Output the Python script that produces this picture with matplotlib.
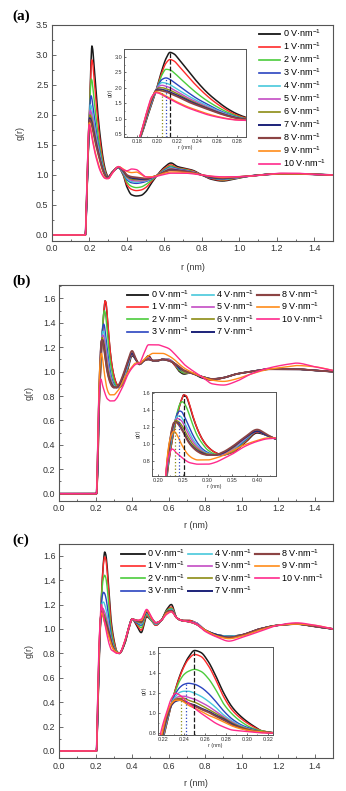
import numpy as np
import matplotlib
matplotlib.use("Agg")
import matplotlib.pyplot as plt
from matplotlib.ticker import MultipleLocator
from matplotlib.lines import Line2D

plt.rcParams['font.family'] = ['Liberation Sans', 'DejaVu Sans']
plt.rcParams['mathtext.fontset'] = 'custom'
plt.rcParams['mathtext.rm'] = 'Liberation Sans'
plt.rcParams['mathtext.it'] = 'Liberation Sans:italic'

# ---------------- data ----------------
FIELDS = [0, 1, 2, 3, 4, 5, 6, 7, 8, 9, 10]
COLORS = ['#1a1a1a', '#ff2a2a', '#4ccc3c', '#2a44c0', '#48c8dc', '#c44cc4',
          '#8c8c14', '#22287c', '#8c4444', '#ff8c1a', '#ff2a8c']
WIDTHS = [1.1, 1.0, 1.0, 1.0, 1.0, 1.0, 1.0, 1.2, 1.3, 1.0, 1.0]

# panel (a) knots
RA = [0.0, 0.178, 0.184, 0.19, 0.195, 0.199, 0.202, 0.205, 0.209, 0.213, 0.217, 0.222,
      0.23, 0.24, 0.25, 0.26, 0.27, 0.28, 0.29, 0.30, 0.32, 0.355, 0.38, 0.40, 0.425,
      0.45, 0.475, 0.50, 0.53, 0.56, 0.60, 0.635, 0.67, 0.71, 0.75, 0.80, 0.85, 0.91,
      0.97, 1.05, 1.15, 1.22, 1.3, 1.4, 1.5]
a0 = [0, 0, 0.42, 1.02, 1.5, 1.9, 2.25, 2.58, 2.95, 3.15, 3.1, 2.92, 2.6, 2.2, 1.85, 1.57, 1.33, 1.15, 1.03, 0.97,
      1.04, 1.12, 1.0, 0.8, 0.67, 0.65, 0.66, 0.72, 0.86, 0.99, 1.13, 1.2, 1.14, 1.11, 1.08, 1.0, 0.93, 0.9,
      0.93, 0.98, 1.01, 1.02, 1.02, 1.01, 1.0]
a1 = [0, 0, 0.43, 1.04, 1.52, 1.9, 2.22, 2.5, 2.8, 2.92, 2.87, 2.7, 2.4, 2.05, 1.74, 1.48, 1.27, 1.11, 1.01, 0.96,
      1.04, 1.12, 1.01, 0.84, 0.76, 0.74, 0.75, 0.79, 0.89, 0.99, 1.11, 1.17, 1.12, 1.1, 1.07, 1.0, 0.94, 0.91,
      0.94, 0.98, 1.01, 1.02, 1.02, 1.01, 1.0]
a2 = [0, 0, 0.44, 1.06, 1.54, 1.9, 2.18, 2.42, 2.6, 2.58, 2.49, 2.34, 2.1, 1.82, 1.58, 1.38, 1.21, 1.08, 0.99, 0.96,
      1.04, 1.12, 1.02, 0.88, 0.81, 0.79, 0.8, 0.84, 0.91, 0.99, 1.09, 1.15, 1.11, 1.09, 1.06, 1.0, 0.95, 0.92,
      0.94, 0.98, 1.01, 1.02, 1.02, 1.01, 1.0]
a3 = [0, 0, 0.45, 1.08, 1.56, 1.9, 2.13, 2.27, 2.32, 2.27, 2.18, 2.06, 1.87, 1.65, 1.47, 1.3, 1.16, 1.05, 0.98, 0.96,
      1.04, 1.12, 1.03, 0.92, 0.87, 0.86, 0.87, 0.89, 0.93, 0.99, 1.08, 1.13, 1.1, 1.08, 1.05, 1.0, 0.95, 0.93,
      0.95, 0.98, 1.01, 1.02, 1.02, 1.01, 1.0]
a4 = [0, 0, 0.46, 1.1, 1.58, 1.91, 2.09, 2.17, 2.15, 2.1, 2.02, 1.92, 1.76, 1.58, 1.42, 1.27, 1.14, 1.04, 0.98, 0.96,
      1.04, 1.12, 1.04, 0.94, 0.89, 0.88, 0.89, 0.9, 0.94, 0.99, 1.07, 1.12, 1.09, 1.07, 1.05, 1.0, 0.96, 0.93,
      0.95, 0.98, 1.01, 1.02, 1.02, 1.01, 1.0]
a5 = [0, 0, 0.47, 1.12, 1.6, 1.92, 2.05, 2.08, 2.05, 2.0, 1.93, 1.84, 1.69, 1.53, 1.38, 1.24, 1.12, 1.03, 0.97, 0.96,
      1.04, 1.13, 1.05, 0.96, 0.91, 0.9, 0.9, 0.91, 0.95, 0.99, 1.06, 1.11, 1.09, 1.07, 1.05, 1.0, 0.96, 0.94,
      0.95, 0.98, 1.01, 1.02, 1.02, 1.01, 1.0]
a6 = [0, 0, 0.48, 1.14, 1.62, 1.92, 2.0, 2.0, 1.97, 1.92, 1.86, 1.78, 1.64, 1.49, 1.35, 1.22, 1.11, 1.02, 0.97, 0.96,
      1.04, 1.13, 1.06, 0.97, 0.93, 0.92, 0.92, 0.92, 0.95, 0.99, 1.06, 1.1, 1.08, 1.06, 1.04, 1.0, 0.96, 0.94,
      0.96, 0.98, 1.01, 1.02, 1.02, 1.01, 1.0]
a7 = [0, 0, 0.49, 1.16, 1.64, 1.92, 1.95, 1.94, 1.91, 1.86, 1.8, 1.73, 1.6, 1.46, 1.33, 1.21, 1.1, 1.02, 0.97, 0.96,
      1.04, 1.13, 1.07, 0.99, 0.95, 0.94, 0.93, 0.93, 0.96, 0.99, 1.05, 1.09, 1.08, 1.06, 1.04, 1.0, 0.96, 0.94,
      0.96, 0.98, 1.01, 1.02, 1.02, 1.01, 1.0]
a8 = [0, 0, 0.5, 1.18, 1.66, 1.9, 1.92, 1.9, 1.87, 1.82, 1.76, 1.69, 1.56, 1.43, 1.31, 1.19, 1.09, 1.01, 0.96, 0.95,
      1.04, 1.13, 1.08, 1.0, 0.97, 0.96, 0.95, 0.94, 0.96, 0.99, 1.05, 1.08, 1.07, 1.06, 1.04, 1.0, 0.97, 0.95,
      0.96, 0.98, 1.01, 1.02, 1.02, 1.01, 1.0]
a9 = [0, 0, 0.53, 1.22, 1.7, 1.87, 1.85, 1.8, 1.73, 1.66, 1.59, 1.51, 1.39, 1.27, 1.16, 1.07, 1.0, 0.96, 0.94, 0.94,
      1.02, 1.14, 1.1, 1.06, 1.04, 1.05, 1.01, 0.97, 0.97, 0.99, 1.03, 1.05, 1.05, 1.04, 1.03, 1.0, 0.98, 0.96,
      0.97, 0.98, 1.01, 1.02, 1.02, 1.01, 1.0]
a10 = [0, 0, 0.55, 1.25, 1.72, 1.84, 1.82, 1.77, 1.7, 1.63, 1.56, 1.48, 1.36, 1.24, 1.13, 1.05, 0.99, 0.95, 0.94, 0.94,
       1.02, 1.14, 1.09, 1.07, 1.1, 1.09, 1.03, 0.97, 0.96, 0.98, 1.01, 1.03, 1.03, 1.03, 1.02, 1.0, 0.98, 0.97,
       0.97, 0.98, 1.01, 1.03, 1.03, 1.01, 1.0]

# panel (b) knots
RB = [0.0, 0.205, 0.212, 0.218, 0.223, 0.228, 0.232, 0.236, 0.24, 0.244, 0.248, 0.252, 0.257, 0.263,
      0.27, 0.28, 0.29, 0.30, 0.315, 0.33, 0.35, 0.375, 0.40, 0.42, 0.44, 0.465, 0.49, 0.515, 0.54,
      0.565, 0.60, 0.63, 0.66, 0.685, 0.72, 0.78, 0.84, 0.9, 0.97, 1.05, 1.15, 1.25, 1.3, 1.4, 1.5]
b0 = [0, 0, 0.18, 0.6, 0.84, 1.02, 1.15, 1.27, 1.37, 1.46, 1.53, 1.58, 1.56, 1.47, 1.33, 1.17, 1.05, 0.97, 0.9, 0.87,
      0.9, 1.01, 1.13, 1.1, 1.06, 1.09, 1.13, 1.09, 1.09, 1.1, 1.1, 1.06, 1.0, 0.98, 0.99, 0.95, 0.93, 0.95, 0.98,
      1.0, 1.02, 1.02, 1.02, 1.01, 1.0]
b1 = [0, 0, 0.18, 0.6, 0.84, 1.02, 1.15, 1.27, 1.37, 1.46, 1.53, 1.58, 1.57, 1.48, 1.34, 1.17, 1.05, 0.97, 0.9, 0.87,
      0.9, 1.02, 1.14, 1.1, 1.06, 1.09, 1.12, 1.09, 1.09, 1.1, 1.1, 1.06, 1.01, 0.99, 0.99, 0.96, 0.93, 0.95, 0.98,
      1.0, 1.02, 1.02, 1.02, 1.01, 1.0]
b2 = [0, 0, 0.2, 0.63, 0.87, 1.05, 1.18, 1.3, 1.4, 1.47, 1.5, 1.49, 1.44, 1.35, 1.23, 1.09, 1.0, 0.93, 0.88, 0.87,
      0.91, 1.03, 1.15, 1.1, 1.06, 1.09, 1.11, 1.09, 1.09, 1.1, 1.1, 1.07, 1.01, 0.99, 0.99, 0.96, 0.94, 0.95, 0.98,
      1.0, 1.02, 1.02, 1.02, 1.01, 1.0]
b3 = [0, 0, 0.22, 0.66, 0.9, 1.08, 1.21, 1.31, 1.37, 1.39, 1.38, 1.34, 1.28, 1.2, 1.11, 1.01, 0.94, 0.9, 0.87, 0.87,
      0.92, 1.04, 1.15, 1.1, 1.06, 1.09, 1.11, 1.09, 1.09, 1.1, 1.1, 1.07, 1.02, 1.0, 0.99, 0.96, 0.94, 0.95, 0.98,
      1.0, 1.02, 1.02, 1.02, 1.01, 1.0]
b4 = [0, 0, 0.24, 0.68, 0.92, 1.1, 1.22, 1.3, 1.33, 1.33, 1.31, 1.27, 1.21, 1.14, 1.06, 0.98, 0.92, 0.89, 0.87, 0.88,
      0.93, 1.05, 1.15, 1.1, 1.06, 1.09, 1.11, 1.09, 1.09, 1.1, 1.1, 1.07, 1.03, 1.0, 0.99, 0.96, 0.94, 0.95, 0.98,
      1.0, 1.02, 1.02, 1.02, 1.01, 1.0]
b5 = [0, 0, 0.26, 0.7, 0.94, 1.12, 1.23, 1.29, 1.3, 1.29, 1.27, 1.23, 1.17, 1.1, 1.03, 0.96, 0.91, 0.88, 0.87, 0.88,
      0.94, 1.06, 1.15, 1.1, 1.06, 1.09, 1.11, 1.09, 1.09, 1.1, 1.1, 1.07, 1.03, 1.0, 0.99, 0.96, 0.94, 0.95, 0.98,
      1.0, 1.02, 1.02, 1.02, 1.01, 1.0]
b6 = [0, 0, 0.28, 0.72, 0.96, 1.14, 1.24, 1.28, 1.27, 1.25, 1.22, 1.18, 1.12, 1.06, 1.0, 0.94, 0.9, 0.88, 0.87, 0.89,
      0.95, 1.07, 1.15, 1.1, 1.06, 1.09, 1.1, 1.09, 1.09, 1.1, 1.09, 1.07, 1.03, 1.0, 0.99, 0.96, 0.94, 0.95, 0.98,
      1.0, 1.02, 1.02, 1.02, 1.01, 1.0]
b7 = [0, 0, 0.3, 0.74, 0.98, 1.16, 1.24, 1.26, 1.25, 1.22, 1.18, 1.14, 1.08, 1.02, 0.97, 0.92, 0.89, 0.87, 0.87, 0.89,
      0.96, 1.07, 1.15, 1.1, 1.06, 1.09, 1.1, 1.09, 1.09, 1.1, 1.09, 1.07, 1.03, 1.01, 0.99, 0.96, 0.94, 0.95, 0.98,
      1.0, 1.02, 1.02, 1.02, 1.01, 1.0]
b8 = [0, 0, 0.31, 0.75, 0.99, 1.17, 1.25, 1.26, 1.24, 1.21, 1.17, 1.13, 1.07, 1.01, 0.96, 0.91, 0.88, 0.87, 0.87, 0.9,
      0.97, 1.08, 1.17, 1.11, 1.06, 1.09, 1.1, 1.09, 1.09, 1.1, 1.09, 1.07, 1.04, 1.01, 0.99, 0.96, 0.94, 0.95, 0.98,
      1.0, 1.02, 1.02, 1.02, 1.01, 1.0]
b9 = [0, 0, 0.35, 0.8, 1.02, 1.12, 1.15, 1.13, 1.09, 1.04, 0.99, 0.95, 0.9, 0.86, 0.83, 0.81, 0.81, 0.81, 0.83, 0.86,
      0.92, 0.99, 1.04, 1.07, 1.07, 1.1, 1.13, 1.15, 1.15, 1.15, 1.13, 1.1, 1.06, 1.03, 1.0, 0.96, 0.93, 0.92, 0.94,
      0.98, 1.02, 1.04, 1.05, 1.04, 1.01]
b10 = [0, 0, 0.38, 0.75, 0.88, 0.94, 0.93, 0.9, 0.88, 0.86, 0.84, 0.82, 0.8, 0.78, 0.77, 0.76, 0.76, 0.76, 0.78, 0.82,
       0.88, 0.97, 1.03, 1.06, 1.07, 1.15, 1.22, 1.22, 1.22, 1.21, 1.19, 1.15, 1.1, 1.06, 1.02, 0.96, 0.9, 0.89, 0.92,
       0.98, 1.03, 1.06, 1.07, 1.04, 1.01]

# panel (c) knots
RC = [0.0, 0.205, 0.212, 0.218, 0.223, 0.228, 0.232, 0.236, 0.24, 0.244, 0.25, 0.256, 0.263, 0.27,
      0.278, 0.286, 0.295, 0.305, 0.315, 0.33, 0.36, 0.38, 0.40, 0.425, 0.45, 0.48, 0.505, 0.53, 0.56,
      0.59, 0.615, 0.645, 0.67, 0.71, 0.75, 0.8, 0.87, 0.93, 1.0, 1.1, 1.2, 1.3, 1.4, 1.5]
c0 = [0, 0, 0.3, 0.65, 0.88, 1.1, 1.25, 1.38, 1.48, 1.56, 1.63, 1.61, 1.52, 1.38, 1.2, 1.06, 0.96, 0.88, 0.82, 0.8,
      0.88, 0.99, 1.08, 1.03, 0.97, 1.1, 1.07, 1.03, 1.07, 1.16, 1.2, 1.09, 1.07, 1.07, 1.05, 0.99, 0.95, 0.94,
      0.95, 1.0, 1.03, 1.04, 1.02, 1.0]
c1 = [0, 0, 0.3, 0.65, 0.88, 1.1, 1.25, 1.37, 1.47, 1.54, 1.59, 1.57, 1.48, 1.34, 1.16, 1.03, 0.94, 0.87, 0.82, 0.8,
      0.88, 0.99, 1.08, 1.04, 0.99, 1.11, 1.07, 1.03, 1.07, 1.15, 1.18, 1.09, 1.07, 1.07, 1.05, 0.99, 0.95, 0.94,
      0.95, 1.0, 1.03, 1.04, 1.02, 1.0]
c2 = [0, 0, 0.31, 0.66, 0.89, 1.1, 1.23, 1.33, 1.39, 1.42, 1.44, 1.42, 1.35, 1.24, 1.09, 0.99, 0.91, 0.85, 0.82, 0.8,
      0.88, 1.0, 1.08, 1.05, 1.01, 1.12, 1.07, 1.04, 1.07, 1.15, 1.17, 1.09, 1.07, 1.06, 1.05, 0.99, 0.95, 0.94,
      0.95, 1.0, 1.03, 1.04, 1.02, 1.0]
c3 = [0, 0, 0.32, 0.67, 0.9, 1.1, 1.2, 1.26, 1.29, 1.3, 1.29, 1.26, 1.2, 1.12, 1.02, 0.94, 0.88, 0.84, 0.81, 0.8,
      0.89, 1.0, 1.08, 1.05, 1.03, 1.13, 1.08, 1.04, 1.07, 1.14, 1.16, 1.09, 1.07, 1.06, 1.05, 0.99, 0.95, 0.94,
      0.95, 1.0, 1.03, 1.04, 1.02, 1.0]
c4 = [0, 0, 0.33, 0.68, 0.91, 1.1, 1.17, 1.21, 1.22, 1.22, 1.2, 1.17, 1.12, 1.06, 0.98, 0.92, 0.87, 0.83, 0.81, 0.8,
      0.89, 1.0, 1.08, 1.06, 1.04, 1.13, 1.08, 1.04, 1.07, 1.14, 1.16, 1.09, 1.07, 1.06, 1.05, 0.99, 0.95, 0.94,
      0.95, 1.0, 1.03, 1.04, 1.02, 1.0]
c5 = [0, 0, 0.34, 0.69, 0.92, 1.09, 1.15, 1.17, 1.17, 1.16, 1.14, 1.11, 1.07, 1.02, 0.96, 0.91, 0.86, 0.83, 0.81, 0.8,
      0.89, 1.0, 1.08, 1.06, 1.05, 1.14, 1.09, 1.05, 1.07, 1.14, 1.15, 1.09, 1.07, 1.06, 1.05, 0.99, 0.95, 0.93,
      0.95, 1.0, 1.03, 1.04, 1.02, 1.0]
c6 = [0, 0, 0.35, 0.7, 0.93, 1.09, 1.14, 1.15, 1.15, 1.13, 1.11, 1.08, 1.04, 1.0, 0.95, 0.9, 0.86, 0.83, 0.81, 0.8,
      0.89, 1.0, 1.08, 1.06, 1.05, 1.14, 1.09, 1.05, 1.07, 1.14, 1.15, 1.09, 1.07, 1.06, 1.04, 0.99, 0.95, 0.93,
      0.95, 1.0, 1.03, 1.04, 1.02, 1.0]
c7 = [0, 0, 0.36, 0.71, 0.94, 1.08, 1.12, 1.13, 1.12, 1.1, 1.08, 1.05, 1.02, 0.98, 0.94, 0.89, 0.85, 0.82, 0.81, 0.8,
      0.89, 1.0, 1.08, 1.07, 1.06, 1.14, 1.09, 1.05, 1.07, 1.14, 1.15, 1.09, 1.07, 1.06, 1.04, 0.99, 0.95, 0.93,
      0.95, 1.0, 1.03, 1.04, 1.02, 1.0]
c8 = [0, 0, 0.37, 0.72, 0.95, 1.09, 1.13, 1.14, 1.12, 1.1, 1.07, 1.04, 1.01, 0.97, 0.93, 0.88, 0.85, 0.82, 0.81, 0.8,
      0.89, 1.0, 1.08, 1.07, 1.06, 1.15, 1.09, 1.05, 1.07, 1.14, 1.15, 1.09, 1.07, 1.06, 1.04, 0.99, 0.94, 0.93,
      0.95, 1.0, 1.03, 1.04, 1.02, 1.0]
c9 = [0, 0, 0.4, 0.75, 0.98, 1.1, 1.13, 1.13, 1.11, 1.08, 1.05, 1.02, 0.98, 0.95, 0.91, 0.87, 0.84, 0.82, 0.81, 0.8,
      0.9, 1.0, 1.08, 1.07, 1.07, 1.15, 1.09, 1.05, 1.07, 1.13, 1.14, 1.09, 1.07, 1.06, 1.04, 0.99, 0.94, 0.92,
      0.94, 0.99, 1.03, 1.04, 1.03, 1.0]
c10 = [0, 0, 0.45, 0.82, 1.0, 1.15, 1.2, 1.18, 1.14, 1.1, 1.05, 1.0, 0.95, 0.9, 0.86, 0.83, 0.82, 0.81, 0.8, 0.8,
       0.9, 1.0, 1.08, 1.07, 1.08, 1.16, 1.1, 1.05, 1.07, 1.12, 1.14, 1.09, 1.07, 1.06, 1.04, 0.98, 0.93, 0.9,
       0.93, 0.98, 1.03, 1.05, 1.03, 1.0]

SERIES_A = [a0, a1, a2, a3, a4, a5, a6, a7, a8, a9, a10]
SERIES_B = [b0, b1, b2, b3, b4, b5, b6, b7, b8, b9, b10]
SERIES_C = [c0, c1, c2, c3, c4, c5, c6, c7, c8, c9, c10]

# peak-position markers in the insets
MARK_A_R = [0.205, 0.209, 0.213]
MARK_A_G = [2.0, 2.32, 3.15]
MARK_B_R = [0.235, 0.243, 0.252]
MARK_B_G = [1.27, 1.36, 1.58]
MARK_C_R = [0.2366, 0.242, 0.249]
MARK_C_G = [1.15, 1.3, 1.63]
MARK_IDX = [6, 3, 0]
MARK_STYLE = [':', ':', '--']


# ---------------- helpers ----------------
def pchip(x, y, xs):
    x = np.asarray(x, float)
    y = np.asarray(y, float)
    h = np.diff(x)
    d = np.diff(y) / h
    n = len(x)
    m = np.zeros(n)
    for k in range(1, n - 1):
        if d[k - 1] * d[k] > 0:
            w1 = 2 * h[k] + h[k - 1]
            w2 = h[k] + 2 * h[k - 1]
            m[k] = (w1 + w2) / (w1 / d[k - 1] + w2 / d[k])
    m[0] = 0.0 if d[0] == 0 else d[0]
    m[-1] = d[-1]
    idx = np.clip(np.searchsorted(x, xs) - 1, 0, n - 2)
    t = (xs - x[idx]) / h[idx]
    h00 = 2 * t**3 - 3 * t**2 + 1
    h10 = t**3 - 2 * t**2 + t
    h01 = -2 * t**3 + 3 * t**2
    h11 = t**3 - t**2
    return h00 * y[idx] + h10 * h[idx] * m[idx] + h01 * y[idx + 1] + h11 * h[idx] * m[idx + 1]


W, H = 346, 791
fig = plt.figure(figsize=(W / 100, H / 100), dpi=100)
SPINE = '#555555'


def add_px_axes(left, top, right, bottom, z=1):
    return fig.add_axes([left / W, 1 - bottom / H, (right - left) / W, (bottom - top) / H], zorder=z)


def style(ax, fs, maj, mnr, lw=0.8, pad=2.0):
    for s in ax.spines.values():
        s.set_color(SPINE)
        s.set_linewidth(lw)
    ax.tick_params(which='both', direction='in', top=False, right=False,
                   colors=SPINE, labelcolor='#333333', labelsize=fs, pad=pad, width=0.6)
    ax.tick_params(which='major', length=maj)
    ax.tick_params(which='minor', length=mnr)


def draw_curves(ax, r, series, lw_scale=1.0):
    xs = np.linspace(0, 1.5, 4001)
    for i, g in enumerate(series):
        ax.plot(xs, pchip(r, g, xs), color=COLORS[i], lw=WIDTHS[i] * lw_scale, solid_joinstyle='round')


def label(i):
    return f'{i} V·nm$^{{-1}}$'


def main_panel(box, r, series, ylim, ystep, tag, tagpos, xlab_y, ylab_x):
    ax = add_px_axes(*box)
    draw_curves(ax, r, series)
    ax.set_xlim(0, 1.5)
    ax.set_ylim(*ylim)
    ax.xaxis.set_major_locator(MultipleLocator(0.2))
    ax.xaxis.set_minor_locator(MultipleLocator(0.1))
    ax.yaxis.set_major_locator(MultipleLocator(ystep))
    ax.yaxis.set_minor_locator(MultipleLocator(ystep / 2))
    ax.xaxis.set_major_formatter(plt.FuncFormatter(lambda v, p: f'{v:.1f}'))
    ax.yaxis.set_major_formatter(plt.FuncFormatter(lambda v, p: f'{v:.1f}'))
    style(ax, 6.4, 2.6, 1.5, pad=2.5)
    fig.text(0.5 * (box[0] + box[2]) / W, 1 - xlab_y / H, 'r (nm)', ha='center', va='center',
             fontsize=6.4, color='#333333')
    fig.text(ylab_x / W, 1 - 0.5 * (box[1] + box[3]) / H, 'g(r)', ha='center', va='center',
             rotation=90, fontsize=6.4, color='#333333')
    fig.text(tagpos[0] / W, 1 - tagpos[1] / H, tag, ha='left', va='center', fontsize=11,
             fontweight='bold', family='Liberation Serif')
    return ax


def inset(box, r, series, xlim, ylim, xstep, ystep, marks_r, marks_g, xfmt):
    ax = add_px_axes(*box, z=5)
    ax.set_facecolor('white')
    draw_curves(ax, r, series, lw_scale=1.0)
    for k in range(3):
        ax.vlines(marks_r[k], ylim[0], marks_g[k], colors=COLORS[MARK_IDX[k]],
                  linestyles=MARK_STYLE[k], lw=0.9, zorder=6)
    ax.set_xlim(*xlim)
    ax.set_ylim(*ylim)
    ax.xaxis.set_major_locator(MultipleLocator(xstep))
    ax.xaxis.set_minor_locator(MultipleLocator(xstep / 2))
    ax.yaxis.set_major_locator(MultipleLocator(ystep))
    ax.yaxis.set_minor_locator(MultipleLocator(ystep / 2))
    ax.xaxis.set_major_formatter(plt.FuncFormatter(lambda v, p: xfmt.format(v)))
    ax.yaxis.set_major_formatter(plt.FuncFormatter(lambda v, p: f'{v:.1f}'))
    style(ax, 4.0, 1.6, 0.9, lw=0.7, pad=1.2)
    ax.set_xlabel('r (nm)', fontsize=3.8, labelpad=1, color='#333333')
    ax.set_ylabel('g(r)', fontsize=3.8, labelpad=1.5, color='#333333')
    return ax


# ---------------- panel (a) ----------------
axA = main_panel((52, 25, 333, 241), RA, SERIES_A, (-0.1, 3.5), 0.5, '(a)', (12, 16), 267, 20)
inset((124, 49, 246, 137), RA, SERIES_A, (0.167, 0.289), (0.4, 3.26), 0.02, 0.5,
      MARK_A_R, MARK_A_G, '{:.2f}')
hA = [Line2D([], [], color=COLORS[i], lw=WIDTHS[i] * 1.2) for i in range(11)]
fig.legend(hA, [label(i) for i in FIELDS], loc='upper right', bbox_to_anchor=(326 / W, 1 - 27 / H),
           frameon=False, fontsize=6.5, ncol=1, handlelength=2.3, handletextpad=0.3,
           labelspacing=0.15, borderpad=0, borderaxespad=0)

# ---------------- panel (b) ----------------
axB = main_panel((59, 285, 333, 501), RB, SERIES_B, (-0.06, 1.71), 0.2, '(b)', (12, 281), 525, 29)
inset((152, 392, 276, 476), RB, SERIES_B, (0.188, 0.438), (0.62, 1.615), 0.05, 0.2,
      MARK_B_R, MARK_B_G, '{:.2f}')
hB = [Line2D([], [], color=COLORS[i], lw=WIDTHS[i] * 1.2) for i in range(11)]
fig.legend(hB, [label(i) for i in FIELDS], loc='upper right', bbox_to_anchor=(324 / W, 1 - 288 / H),
           frameon=False, fontsize=6.5, ncol=3, handlelength=2.4, handletextpad=0.25,
           labelspacing=0.08, columnspacing=0.35, borderpad=0, borderaxespad=0)

# ---------------- panel (c) ----------------
axC = main_panel((59, 543.5, 333, 758.3), RC, SERIES_C, (-0.06, 1.70), 0.2, '(c)', (12, 540), 783, 29)
inset((158, 647, 273, 735), RC, SERIES_C, (0.215, 0.325), (0.78, 1.665), 0.02, 0.2,
      MARK_C_R, MARK_C_G, '{:.2f}')
hC = [Line2D([], [], color=COLORS[i], lw=WIDTHS[i] * 1.2) for i in range(11)]
fig.legend(hC, [label(i) for i in FIELDS], loc='upper right', bbox_to_anchor=(324 / W, 1 - 547 / H),
           frameon=False, fontsize=6.5, ncol=3, handlelength=2.6, handletextpad=0.25,
           labelspacing=0.08, columnspacing=0.35, borderpad=0, borderaxespad=0)

fig.savefig('out.png', dpi=100)
